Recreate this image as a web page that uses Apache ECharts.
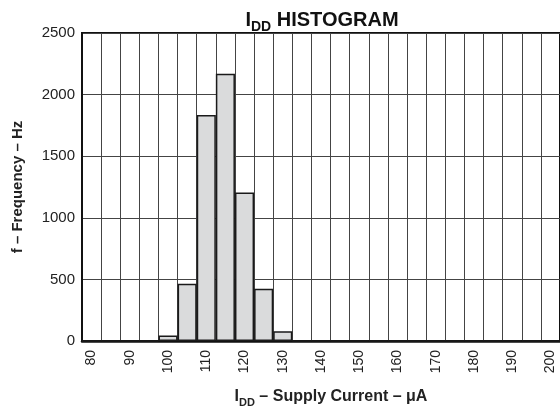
<!DOCTYPE html>
<html>
<head>
<meta charset="utf-8">
<script src="https://cdn.jsdelivr.net/npm/echarts@6/dist/echarts.min.js"></script>
<style>html,body{margin:0;padding:0;background:#fff;}#c{width:560px;height:413px;}</style>
</head>
<body>
<div id="c"></div>
<script>
const categories = ['80','85','90','95','100','105','110','115','120','125','130','135','140','145','150','155','160','165','170','175','180','185','190','195','200'];
const frequency = [0,0,0,0,45,465,1835,2170,1205,425,80,0,0,0,0,0,0,0,0,0,0,0,0,0,0];
const yTicks = {min:0, max:2500, interval:500};

const chart = echarts.init(document.getElementById('c'));
const FONT = 'Liberation Sans, Arial, sans-serif';
chart.setOption({
  animation:false,
  backgroundColor:'#fff',
  title:{
    text:'{a|I}{b|DD}{a| HISTOGRAM}',
    left:317, top:1, textAlign:'center',
    textStyle:{
      rich:{
        a:{fontFamily:FONT,fontSize:20,fontWeight:'bold',color:'#111',lineHeight:28,verticalAlign:'middle'},
        b:{fontFamily:FONT,fontSize:14,fontWeight:'bold',color:'#111',lineHeight:14,verticalAlign:'bottom'}
      }
    }
  },
  grid:{left:82, top:33, width:479, height:316, show:true, borderColor:'#111', borderWidth:2, containLabel:false},
  xAxis:{
    type:'category', data:categories, boundaryGap:true,
    axisLine:{lineStyle:{color:'#111',width:2.5}},
    axisTick:{show:false},
    axisLabel:{interval:1, rotate:90, margin:9, fontFamily:FONT, fontSize:14, color:'#222'},
    splitLine:{show:true, interval:0, lineStyle:{color:'#444',width:1}},
    name:'{a|I}{b|DD}{a| – Supply Current – μA}',
    nameLocation:'middle', nameGap:45,
    nameTextStyle:{
      padding:[0,0,0,20],
      rich:{
        a:{fontFamily:FONT,fontSize:16,fontWeight:'bold',color:'#222',lineHeight:22,verticalAlign:'middle'},
        b:{fontFamily:FONT,fontSize:11,fontWeight:'bold',color:'#222',lineHeight:11,verticalAlign:'bottom'}
      }
    }
  },
  yAxis:{
    type:'value', min:yTicks.min, max:yTicks.max, interval:yTicks.interval,
    axisLine:{show:true, lineStyle:{color:'#111',width:2}},
    axisTick:{show:false},
    axisLabel:{margin:7, fontFamily:FONT, fontSize:15, color:'#222', formatter:function(v){return String(v);}},
    splitLine:{show:true, lineStyle:{color:'#444',width:1}},
    name:'f – Frequency – Hz', nameLocation:'middle', nameRotate:90, nameGap:57,
    nameTextStyle:{fontFamily:FONT,fontSize:15,fontWeight:'bold',color:'#222'}
  },
  series:[{
    type:'bar', data:frequency, barCategoryGap:'0%',
    itemStyle:{color:'#dadbdc', borderColor:'#1a1a1a', borderWidth:1.5},
    z:3
  }]
});
</script>
</body>
</html>
